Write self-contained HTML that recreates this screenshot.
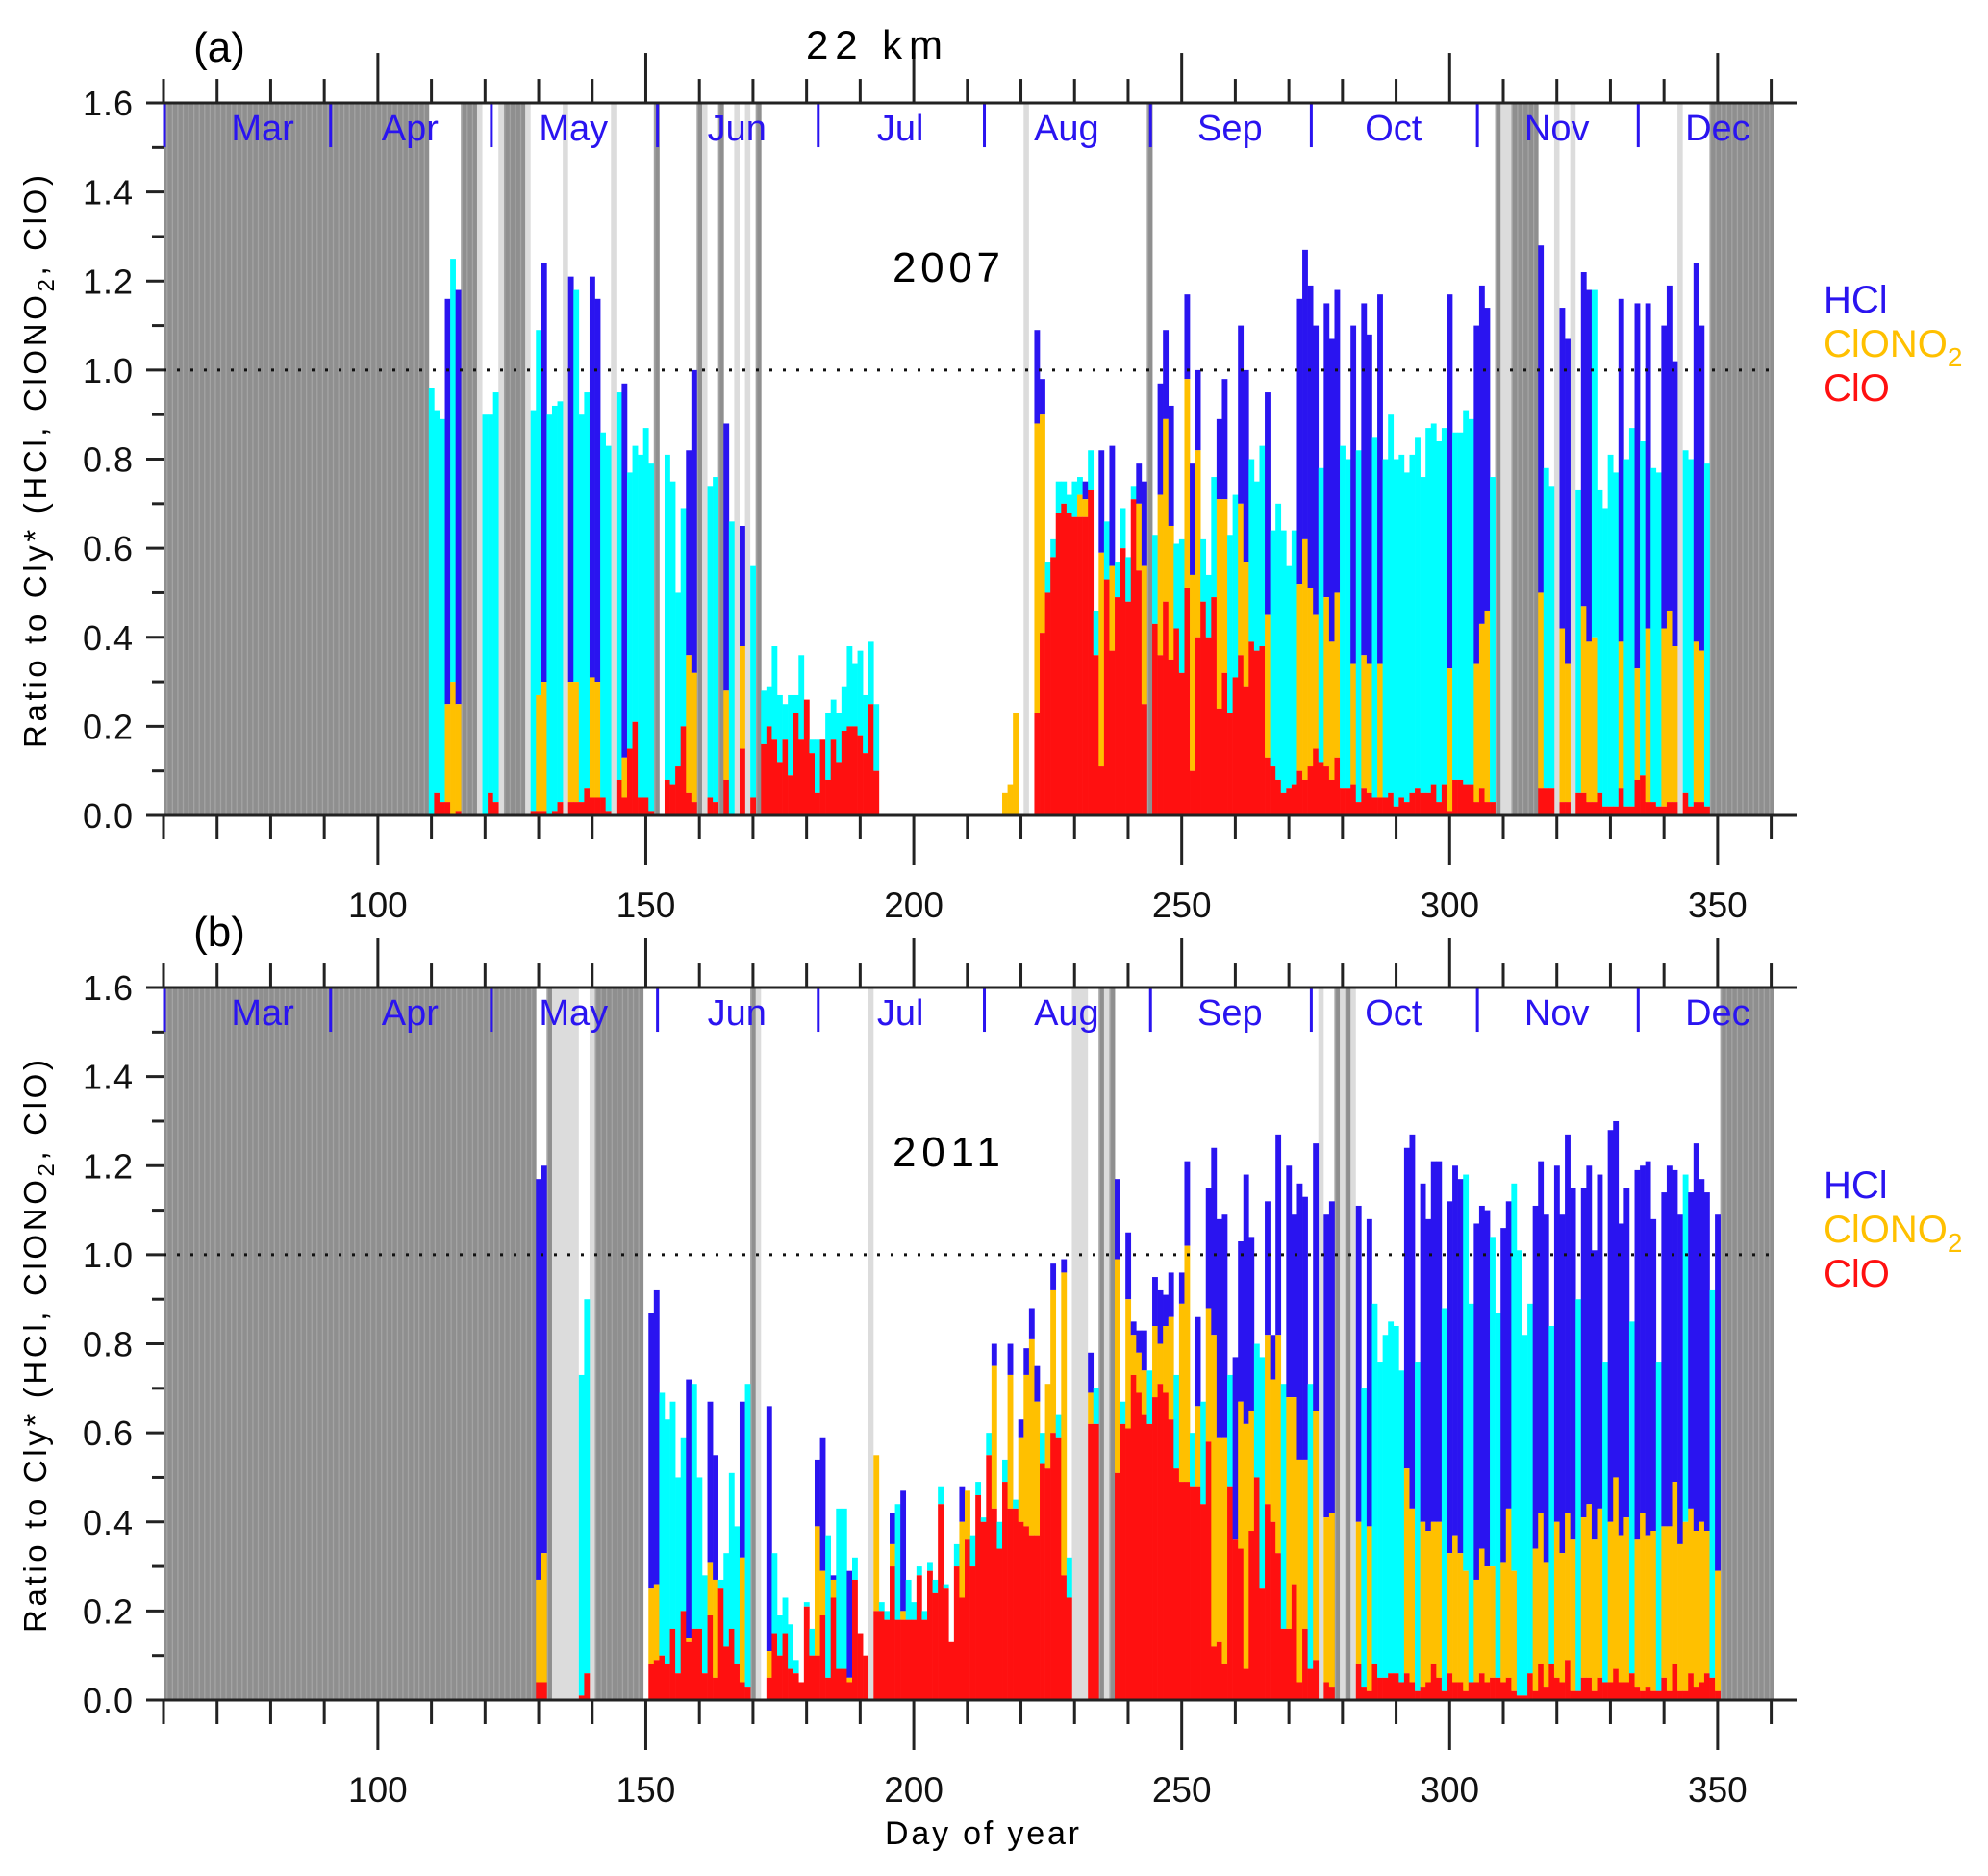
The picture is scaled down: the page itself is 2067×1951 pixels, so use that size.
<!DOCTYPE html>
<html><head><meta charset="utf-8"><style>
html,body{margin:0;padding:0;background:#fff}
svg{display:block}
text{font-family:"Liberation Sans",sans-serif}
</style></head><body>
<svg id="chart" width="2067" height="1951" viewBox="0 0 2067 1951" xmlns="http://www.w3.org/2000/svg">
<defs>
<clipPath id="clipA"><rect x="170" y="100" width="1698" height="748"/></clipPath>
<clipPath id="clipB"><rect x="170" y="1020" width="1698" height="748"/></clipPath>
</defs>
<g id="panelA"></g>
<g id="panelB"></g>
<text x="228" y="64" font-size="44" text-anchor="middle">(a)</text>
<text x="909" y="61" font-size="42" text-anchor="middle" textLength="142">22 km</text>
<text x="984" y="293" font-size="44" text-anchor="middle" textLength="112">2007</text>
<text x="228" y="984" font-size="44" text-anchor="middle">(b)</text>
<text x="984" y="1213" font-size="44" text-anchor="middle" textLength="112">2011</text>
<text x="1021" y="1918" font-size="34" text-anchor="middle" textLength="202">Day of year</text>
<text transform="translate(48,480) rotate(-90)" font-size="33" text-anchor="middle" textLength="596">Ratio to Cly* (HCl, ClONO<tspan font-size="24" dy="8">2</tspan><tspan dy="-8">, ClO)</tspan></text>
<text transform="translate(48,1400) rotate(-90)" font-size="33" text-anchor="middle" textLength="596">Ratio to Cly* (HCl, ClONO<tspan font-size="24" dy="8">2</tspan><tspan dy="-8">, ClO)</tspan></text>
<g>
<text x="1896" y="325" font-size="40" fill="#2a14f0">HCl</text>
<text x="1896" y="371" font-size="40" fill="#ffc000">ClONO<tspan font-size="28" dy="10">2</tspan></text>
<text x="1896" y="417" font-size="40" fill="#ff1010">ClO</text>
</g>
<g>
<text x="1896" y="1246" font-size="40" fill="#2a14f0">HCl</text>
<text x="1896" y="1292" font-size="40" fill="#ffc000">ClONO<tspan font-size="28" dy="10">2</tspan></text>
<text x="1896" y="1338" font-size="40" fill="#ff1010">ClO</text>
</g>
</svg>
<script>
// ---------- Panel (a) 2007 ----------
const aDays = [110,111,112,113,114,115,120,121,122,129,130,131,132,133,134,136,137,138,139,140,141,142,143,145,146,147,148,149,150,151,
154,155,156,157,158,159,162,163,165,166,168,170,
172,173,174,175,176,177,178,179,180,181,182,183,184,185,186,187,188,189,190,191,192,193,
217,218,219,
223,224,225,226,227,228,229,230,231,232,233,234,235,236,237,238,239,240,241,242,243,
245,246,247,248,249,250,251,252,253,254,255,256,257,258,259,260,261,262,263,264,265,266,267,268,269,270,271,272,273,274,275,276,277,278,279,280,281,282,283,284,285,286,287,288,289,290,291,292,293,294,295,296,297,298,299,300,301,302,303,304,305,306,307,308,
317,318,319,321,322,324,325,326,327,328,329,330,331,332,333,334,335,336,337,338,339,340,341,342,344,345,346,347,348];
const aClO = [0,.05,.03,.03,0,.01,0,.05,.03,.01,.01,.01,0,.01,.03,.03,.03,.03,.06,.04,.04,.04,.01,.08,.04,.15,.21,.04,.04,.01,
.08,.07,.11,.20,.05,.03,.04,.03,.08,0,.15,.04,
.16,.20,.17,.12,.17,.09,.23,.17,.26,.14,.05,.17,.08,.17,.12,.19,.20,.20,.18,.14,.25,.10,
0,0,0,
.23,.41,.50,.58,.68,.70,.68,.67,.67,.67,.73,.36,.11,.53,.37,.49,.60,.48,.71,.55,.25,
.43,.36,.48,.35,.42,.32,.51,.10,.40,.48,.40,.49,.24,.32,.23,.31,.36,.29,.39,.37,.38,.13,.11,.08,.05,.06,.07,.10,.08,.11,.15,.12,.11,.08,.13,.06,.06,.07,.03,.06,.05,.04,.04,.04,.05,.02,.04,.03,.05,.06,.05,.05,.07,.03,.07,.01,.08,.08,.07,.07,.03,.06,.03,.03,
.06,.06,.06,.03,.03,.05,.05,.03,.03,.05,.02,.02,.02,.06,.02,.02,.08,.09,.03,.03,.02,.02,.03,.03,.05,.02,.03,.03,.02];
const aClONO2Top = [0,.05,.03,.25,.30,.25,0,.05,.03,.01,.27,.30,0,.01,.03,.30,.30,.03,.06,.31,.30,.04,.01,.08,.13,.15,.21,.04,.04,.01,
.08,.07,.11,.20,.36,.32,.04,.03,.28,0,.38,.04,
.16,.20,.17,.12,.17,.09,.23,.17,.26,.14,.05,.17,.08,.17,.12,.19,.20,.20,.18,.14,.25,.10,
.05,.07,.23,
.88,.90,.50,.58,.68,.70,.68,.67,.72,.71,.73,.36,.59,.53,.56,.49,.60,.48,.71,.70,.56,
.43,.72,.89,.65,.42,.32,.98,.54,.82,.48,.40,.49,.71,.71,.23,.31,.70,.57,.39,.37,.38,.45,.11,.08,.05,.06,.07,.52,.62,.51,.45,.12,.49,.39,.50,.06,.06,.34,.03,.36,.34,.04,.34,.04,.05,.02,.04,.03,.05,.06,.05,.05,.07,.03,.07,.33,.08,.08,.07,.07,.34,.43,.46,.03,
.50,.06,.06,.42,.34,.05,.47,.39,.40,.05,.02,.02,.02,.39,.02,.02,.33,.09,.42,.03,.02,.42,.46,.38,.05,.02,.39,.37,.02];
const aTotal = [.96,.91,.89,1.16,1.25,1.18,.90,.90,.95,.91,1.09,1.24,.90,.92,.93,1.21,1.18,.90,.95,1.21,1.16,.86,.83,.95,.97,.77,.83,.81,.87,.79,
.81,.75,.50,.69,.82,1.00,.74,.76,.88,.66,.65,.56,
.28,.29,.38,.27,.25,.27,.27,.36,.26,.17,.17,.17,.23,.26,.23,.29,.38,.34,.37,.27,.39,.25,
.05,.07,.23,
1.09,.98,.57,.62,.75,.75,.72,.75,.76,.75,.82,.46,.82,.66,.83,.57,.69,.58,.74,.79,.75,
.63,.97,1.09,.92,.61,.62,1.17,.79,1.00,.62,.54,.76,.89,.98,.63,.72,1.10,1.00,.80,.75,.83,.95,.64,.70,.64,.56,.64,1.16,1.27,1.19,1.10,.78,1.15,1.07,1.18,.83,.80,1.10,.82,1.15,1.08,.85,1.17,.80,.90,.80,.81,.77,.81,.85,.76,.87,.88,.84,.87,1.17,.86,.86,.91,.89,1.10,1.19,1.14,.76,
1.28,.78,.74,1.14,1.07,.73,1.22,1.18,1.18,.73,.69,.81,.77,1.16,.80,.87,1.15,.84,1.15,.78,.77,1.10,1.19,1.02,.82,.80,1.24,1.10,.79];
const aKind = ("CCCBCBCCCCCBCCCBCCCBBCCCBCCCCC"+"CCCCBBCCBCBC"+"CCCCCCCCCCCCCCCCCCCCCC"+"OOO"+"BBCCCCCCCBCCBCBCCCCBB"+
"CBBBCCBBBC"+"CCBBCCBBCC"+"CBCCCCCBBB"+"BCBBBCCBCB"+"BCBCCCCCCC"+"CCCCCBCCCC"+"BBBC"+
"BCCBBCBBCCCCCBCCBCBCCBBBCCBBC").split('');
const aDarkGray = [[60,109],[116,118],[124,127],[152,152],[160,160],[164,164],[171,171],[244,244],[309,309],[312,316],[349,360]];
const aLightGray = [[119,119],[123,123],[128,128],[135,135],[144,144],[161,161],[167,167],[169,169],[221,221],[310,311],[320,320],[323,323],[343,343]];

// ---------- Panel (b) 2011 ----------
const bDays = [130,131,138,139,151,152,153,154,155,156,157,158,159,160,161,162,163,164,165,166,167,168,169,
173,174,175,176,177,178,179,180,181,182,183,184,185,186,187,188,189,190,191,
193,194,195,196,197,198,199,200,201,202,203,204,205,206,207,208,209,210,211,212,213,214,215,216,217,218,219,220,221,222,223,224,225,226,227,228,229,
233,234,
238,239,240,241,242,243,244,245,246,247,248,249,250,251,252,253,254,255,256,257,258,259,260,261,262,263,264,265,266,267,268,269,270,271,272,273,274,275,
277,278,
283,284,285,286,287,288,289,290,291,292,293,294,295,296,297,298,299,300,301,302,303,304,305,306,307,308,309,310,311,312,313,314,315,316,317,318,319,320,321,322,323,324,325,326,327,328,329,330,331,332,333,334,335,336,337,338,339,340,341,342,343,344,345,346,347,348,349,350];
const bClO = [.04,.04,.01,.06,.08,.09,.10,.08,.16,.06,.20,.13,.16,.16,.06,.19,.05,.25,.12,.16,.08,.04,.03,
.05,.15,.10,.15,.07,.06,.04,.21,.10,.10,.19,.05,.23,.07,.07,.04,.27,.15,.10,
.20,.20,.18,.30,.18,.18,.18,.18,.28,.18,.29,.24,.44,.25,.13,.30,.23,.36,.30,.46,.40,.55,.43,.34,.49,.43,.43,.40,.39,.37,.37,.53,.52,.60,.59,.28,.23,
.62,.62,
.51,.62,.61,.73,.69,.64,.62,.68,.71,.69,.63,.52,.49,.49,.48,.48,.44,.58,.12,.13,.08,.48,.36,.34,.07,.38,.50,.25,.44,.40,.33,.16,.16,.26,.04,.16,.07,.09,
.04,.03,
.08,.03,.02,.08,.05,.05,.06,.06,.04,.06,.04,.02,.03,.04,.08,.05,.02,.06,.04,.04,.02,.04,.04,.06,.04,.05,.05,.04,.05,.02,.01,.01,.06,.02,.08,.03,.08,.05,.04,.09,.02,.02,.05,.05,.02,.05,.04,.04,.07,.04,.04,.06,.03,.02,.03,.02,.02,.05,.02,.08,.02,.02,.06,.03,.04,.06,.05,.02];
const bClONO2Top = [.27,.33,.01,.06,.25,.26,.10,.08,.16,.06,.20,.14,.16,.16,.06,.31,.27,.25,.12,.16,.08,.32,.03,
.11,.15,.10,.15,.07,.06,.04,.21,.10,.39,.29,.05,.27,.07,.07,.05,.27,.15,.10,
.55,.20,.18,.35,.18,.20,.18,.18,.28,.18,.29,.24,.44,.25,.13,.30,.40,.47,.30,.46,.40,.55,.75,.34,.49,.73,.43,.59,.73,.81,.67,.53,.71,.92,.59,.96,.23,
.69,.62,
.99,.62,.90,.82,.78,.74,.62,.84,.80,.84,.86,.52,.89,1.02,.48,.66,.44,.88,.82,.59,.59,.48,.36,.67,.62,.65,.50,.25,.82,.72,.82,.16,.68,.68,.54,.54,.07,.65,
.41,.42,
.40,.03,.39,.08,.05,.05,.06,.06,.04,.52,.43,.02,.40,.38,.40,.40,.02,.33,.37,.33,.29,.04,.27,.34,.30,.30,.05,.31,.43,.29,.01,.01,.06,.34,.42,.31,.08,.40,.33,.42,.36,.02,.41,.44,.36,.43,.04,.40,.50,.37,.41,.06,.36,.42,.37,.38,.02,.39,.39,.49,.35,.40,.43,.38,.40,.38,.05,.29];
const bTotal = [1.17,1.20,.73,.90,.87,.92,.69,.63,.67,.50,.59,.72,.71,.50,.28,.67,.55,.27,.33,.51,.39,.67,.71,
.66,.33,.19,.23,.17,.09,.04,.22,.16,.54,.59,.37,.28,.43,.43,.29,.32,.15,.10,
.55,.22,.20,.42,.44,.47,.27,.22,.30,.20,.31,.27,.48,.26,.13,.35,.48,.47,.37,.49,.41,.60,.80,.40,.54,.80,.45,.63,.79,.88,.75,.60,.71,.98,.64,.99,.32,
.78,.70,
1.17,.67,1.05,.85,.83,.83,.74,.95,.92,.91,.96,.73,.96,1.21,.60,.86,.67,1.15,1.24,1.08,1.09,.73,.77,1.03,1.18,1.04,.80,.77,1.12,.82,1.27,.71,1.20,1.09,1.16,1.13,.71,1.25,
1.09,1.12,
1.11,.70,1.08,.89,.76,.82,.85,.84,.74,1.24,1.27,.76,1.16,1.08,1.21,1.21,.88,1.12,1.20,1.17,1.18,.89,1.07,1.11,1.10,1.04,.87,1.06,1.12,1.16,1.01,.82,.89,1.11,1.21,1.09,.84,1.20,1.09,1.27,1.15,.90,1.15,1.20,1.01,1.18,.76,1.28,1.30,1.07,1.15,.85,1.19,1.20,1.21,1.08,.76,1.14,1.20,1.19,1.09,1.18,1.14,1.25,1.17,1.14,.92,1.09];
const bKind = ("BBCCBBCCCCCBCCCBBCCCCBC"+"BCCCCCCCCBBCBCCBCCC"+"OCCBCBCCCCCCCCCCBOCCCCBCCBCBBBBCOBCBC"+"BC"+
"BCBBBBCBBB"+"BCBBCBCBBB"+"BCBBBBCCBB"+"BCBBBBCB"+"BB"+
"BCBCCCCCCB"+"BCBBBBCBBB"+"CCBBBCCBBC"+"CCCBBBCBBB"+"BCBBBBCBBB"+"BCBBBBCBBB"+"BCBBBBCB").split('');
const bDarkGray = [[60,129],[132,132],[141,149],[170,170],[235,235],[237,237],[279,279],[281,281],[351,360]];
const bLightGray = [[133,137],[140,140],[171,171],[192,192],[230,232],[236,236],[276,276],[280,280],[282,282]];

// ---------- axes / labels ----------
const yTicks = [0,0.2,0.4,0.6,0.8,1.0,1.2,1.4,1.6];
const yTickLabels = ["0.0","0.2","0.4","0.6","0.8","1.0","1.2","1.4","1.6"];
const xTickLabels = [100,150,200,250,300,350];
const monthNames = ["Mar","Apr","May","Jun","Jul","Aug","Sep","Oct","Nov","Dec"];
const monthStarts = [60,91,121,152,182,213,244,274,305,335];
const monthLabelDays = [78.5,106,136.5,167,197.5,228.5,259,289.5,320,350];

const NS = "http://www.w3.org/2000/svg";
const X0 = 170, PXD = 5.572, UNIT = 463.1, XMAX = 1868;
function xs(d){ return X0 + (d-60)*PXD; }
function mk(tag, attrs, parent){
  const e = document.createElementNS(NS, tag);
  for (const k in attrs) e.setAttribute(k, attrs[k]);
  parent.appendChild(e);
  return e;
}
const COL = {red:"#ff1010", orange:"#ffc000", blue:"#2a14f0", cyan:"#00ffff", dark:"#8f8f8f", light:"#dcdcdc", month:"#2a14f0"};

function drawPanel(g, base, clipId, days, clo, oTop, total, kind, dark, light){
  const top = base - 1.6*UNIT;
  const ys = v => base - v*UNIT;
  const plot = mk("g", {"clip-path":"url(#"+clipId+")"}, g);
  
  
  dark.forEach(r => {
    for (let d = r[0]; d <= r[1]; d++) {
      const rc = mk("rect", {x: xs(d-0.5), y: top, width: PXD+0.4, height: base-top, fill: COL.dark}, plot);
      
      
      const ln = mk("line", {x1: xs(d-0.5)+1, x2: xs(d-0.5)+1, y1: top, y2: base, stroke: "#a4a4a4", "stroke-width": 1.3}, plot);
      
      
    }
  });
  light.forEach(r => {
    const rc = mk("rect", {x: xs(r[0]-0.5), y: top, width: (r[1]-r[0]+1)*PXD, height: base-top, fill: COL.light}, plot);
    
    
  });
  const n = Math.min(days.length, clo.length, oTop.length, total.length, kind.length);
  for (let i = 0; i < n; i++) {
    const x = xs(days[i]-0.5), w = PXD+0.3;
    const c = clo[i], o = Math.max(oTop[i], c), t = Math.max(total[i], o);
    if (kind[i] !== 'O' && t > o) {
      const up = mk("rect", {x: x, y: ys(t), width: w, height: ys(o)-ys(t), fill: kind[i]==='B' ? COL.blue : COL.cyan}, plot);
      
      
    }
    if (o > c) {
      const ob = mk("rect", {x: x, y: ys(o), width: w, height: ys(c)-ys(o), fill: COL.orange}, plot);
      
      
    }
    if (c > 0) {
      const rb = mk("rect", {x: x, y: ys(c), width: w, height: base-ys(c), fill: COL.red}, plot);
      
      
    }
  }
  monthStarts.forEach((d, i) => {
    const s = mk("line", {x1: xs(d)+1, x2: xs(d)+1, y1: top, y2: top+46, stroke: COL.month, "stroke-width": 3}, g);
    
    
  });
  monthNames.forEach((m, i) => {
    const t = mk("text", {x: xs(monthLabelDays[i]), y: top+39, "font-size": 38, "text-anchor": "middle", fill: COL.month}, g);
    t.textContent = m;
    
    
  });
  const ref = mk("line", {x1: X0, x2: XMAX-20, y1: ys(1.0), y2: ys(1.0), stroke: "#111", "stroke-width": 3, "stroke-dasharray": "3 11"}, g);
  
  
  const ax1 = mk("line", {x1: 153, x2: XMAX, y1: top, y2: top, stroke: "#222", "stroke-width": 3}, g);
  
  
  const ax2 = mk("line", {x1: 153, x2: XMAX, y1: base, y2: base, stroke: "#222", "stroke-width": 3}, g);
  
  
  for (let d = 60; d <= 360; d += 10) {
    const major = d % 50 === 0;
    const L = major ? 52 : 25;
    const t1 = mk("line", {x1: xs(d), x2: xs(d), y1: base, y2: base+L, stroke: "#222", "stroke-width": 3}, g);
    
    
    const t2 = mk("line", {x1: xs(d), x2: xs(d), y1: top, y2: top-L, stroke: "#222", "stroke-width": 3}, g);
    
    
  }
  xTickLabels.forEach(v => {
    const t = mk("text", {x: xs(v), y: base+106, "font-size": 37, "text-anchor": "middle", fill: "#111"}, g);
    t.textContent = String(v);
    
    
  });
  for (let k = 0; k <= 16; k++) {
    const v = k/10, major = k % 2 === 0;
    const yt = mk("line", {x1: major ? 152 : 158, x2: X0, y1: ys(v), y2: ys(v), stroke: "#222", "stroke-width": 3}, g);
    
    
  }
  yTicks.forEach((v, i) => {
    const t = mk("text", {x: 139, y: ys(v)+13, "font-size": 36, "text-anchor": "end", fill: "#111", "letter-spacing": 1}, g);
    t.textContent = yTickLabels[i];
    
    
  });
}
drawPanel(document.getElementById('panelA'), 848, 'clipA', aDays, aClO, aClONO2Top, aTotal, aKind, aDarkGray, aLightGray);
drawPanel(document.getElementById('panelB'), 1768, 'clipB', bDays, bClO, bClONO2Top, bTotal, bKind, bDarkGray, bLightGray);
</script>
</body></html>
